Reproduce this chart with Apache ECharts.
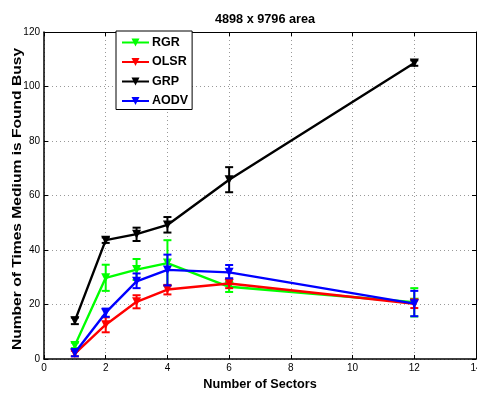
<!DOCTYPE html>
<html>
<head>
<meta charset="utf-8">
<script src="https://cdn.jsdelivr.net/npm/echarts@6/dist/echarts.min.js"></script>
<style>html,body{margin:0;padding:0;background:#fff}#c{width:477px;height:393px}</style>
</head>
<body>
<div id="c"></div>
<script>
const sectors = [1, 2, 3, 4, 6, 12];
const xTicks = [0, 2, 4, 6, 8, 10, 12, 14];
const yTicks = [0, 20, 40, 60, 80, 100, 120];

const rgrMean = [5, 29.8, 32.8, 35.2, 26.5, 20.8];
const rgrLow  = [4, 25, 29, 27, 24.6, 15.6];
const rgrHigh = [6, 34.6, 36.7, 43.6, 28.4, 26];

const olsrMean = [2, 12.6, 21, 25.5, 27.7, 20.3];
const olsrLow  = [1, 9.8, 18.6, 23.7, 26, 18.7];
const olsrHigh = [3, 15.3, 23.4, 27.2, 29.5, 21.9];

const grpMean = [14, 43.6, 45.8, 49.2, 65.8, 108.6];
const grpLow  = [12.8, 42.6, 43.3, 46.4, 61.2, 107.6];
const grpHigh = [15.2, 44.6, 48.2, 52.1, 70.4, 109.6];

const aodvMean = [2.3, 17, 28.5, 32.7, 31.8, 20.3];
const aodvLow  = [1, 15.5, 26, 27, 29.6, 15.7];
const aodvHigh = [3.6, 18.5, 31.4, 38.3, 34.5, 25];

const seriesDefs = [
  {name: 'RGR', color: '#00ff00', mean: rgrMean, low: rgrLow, high: rgrHigh},
  {name: 'OLSR', color: '#ff0000', mean: olsrMean, low: olsrLow, high: olsrHigh},
  {name: 'GRP', color: '#000000', mean: grpMean, low: grpLow, high: grpHigh},
  {name: 'AODV', color: '#0000ff', mean: aodvMean, low: aodvLow, high: aodvHigh}
];

const yTitle = 'Number of Times Medium is Found Busy';

const FONT = 'Liberation Sans, Arial, Helvetica, sans-serif';
const chart = echarts.init(document.getElementById('c'), null, {renderer: 'canvas'});

const series = [];
seriesDefs.forEach((s, i) => {
  series.push({
    name: s.name,
    type: 'line',
    data: sectors.map((x, k) => [x, s.mean[k]]),
    symbol: 'triangle',
    symbolRotate: 180,
    symbolSize: 9,
    lineStyle: {color: s.color, width: 2.4},
    itemStyle: {color: s.color},
    z: 2 + i * 2,
    animation: false
  });
  series.push({
    name: s.name + '_err',
    type: 'custom',
    data: sectors.map((x, k) => [x, s.low[k], s.high[k]]),
    renderItem: function (params, api) {
      const x = api.value(0);
      const lo = api.coord([x, api.value(1)]);
      const hi = api.coord([x, api.value(2)]);
      const w = 4;
      const st = {stroke: s.color, lineWidth: 2};
      return {
        type: 'group',
        children: [
          {type: 'line', shape: {x1: lo[0], y1: lo[1], x2: hi[0], y2: hi[1]}, style: st},
          {type: 'line', shape: {x1: lo[0] - w, y1: lo[1], x2: lo[0] + w, y2: lo[1]}, style: st},
          {type: 'line', shape: {x1: hi[0] - w, y1: hi[1], x2: hi[0] + w, y2: hi[1]}, style: st}
        ]
      };
    },
    encode: {x: 0, y: [1, 2]},
    z: 3 + i * 2,
    animation: false
  });
});

const gridLine = {show: true, lineStyle: {color: '#999', type: [1, 3], width: 1}};
chart.setOption({
  animation: false,
  backgroundColor: '#fff',
  title: {
    text: '4898 x 9796 area',
    left: 260, top: 8, textAlign: 'center',
    textStyle: {fontFamily: FONT, fontSize: 12.7, fontWeight: 'bold', color: '#000'}
  },
  graphic: [{
    type: 'text',
    x: 18, y: 199,
    rotation: Math.PI / 2,
    scaleX: 1.3,
    style: {
      text: yTitle,
      fontFamily: FONT, fontSize: 12, fontWeight: 'bold', fill: '#000',
      align: 'center', verticalAlign: 'middle'
    }
  }],
  grid: {left: 44, right: 1, top: 32, bottom: 34, show: false, containLabel: false, outerBoundsMode: 'none'},
  legend: {
    data: seriesDefs.map(s => s.name),
    orient: 'vertical',
    left: 116, top: 31,
    padding: [5, 4, 2, 5],
    itemWidth: 27, itemHeight: 10, itemGap: 6.5,
    backgroundColor: '#fff',
    borderColor: '#000', borderWidth: 1, borderRadius: 0,
    textStyle: {fontFamily: FONT, fontSize: 12.5, fontWeight: 'bold', color: '#000', padding: [0, 0, 0, -2]},
    z: 20
  },
  xAxis: [{
    type: 'value', min: 0, max: 14, interval: 2,
    name: 'Number of Sectors', nameLocation: 'middle', nameGap: 16,
    nameTextStyle: {fontFamily: FONT, fontSize: 12.7, fontWeight: 'bold', color: '#000'},
    axisLine: {show: true, onZero: false, lineStyle: {color: '#000', width: 1.5}},
    axisTick: {show: true, inside: true, length: 4, lineStyle: {color: '#000'}},
    axisLabel: {fontFamily: FONT, fontSize: 10, color: '#000', margin: 4},
    splitLine: gridLine
  }, {
    type: 'value', min: 0, max: 14, interval: 2, position: 'top',
    axisLine: {show: true, onZero: false, lineStyle: {color: '#000', width: 1}},
    axisTick: {show: true, inside: true, length: 4, lineStyle: {color: '#000'}},
    axisLabel: {show: false}, splitLine: {show: false}
  }],
  yAxis: [{
    type: 'value', min: 0, max: 120, interval: 20,
    axisLine: {show: true, onZero: false, lineStyle: {color: '#000', width: 1.5}},
    axisTick: {show: true, inside: true, length: 4, lineStyle: {color: '#000'}},
    axisLabel: {fontFamily: FONT, fontSize: 10, color: '#000', margin: 4},
    splitLine: gridLine
  }, {
    type: 'value', min: 0, max: 120, interval: 20, position: 'right',
    axisLine: {show: true, onZero: false, lineStyle: {color: '#000', width: 1}},
    axisTick: {show: true, inside: true, length: 4, lineStyle: {color: '#000'}},
    axisLabel: {show: false}, splitLine: {show: false}
  }],
  series: series
});
</script>
</body>
</html>
